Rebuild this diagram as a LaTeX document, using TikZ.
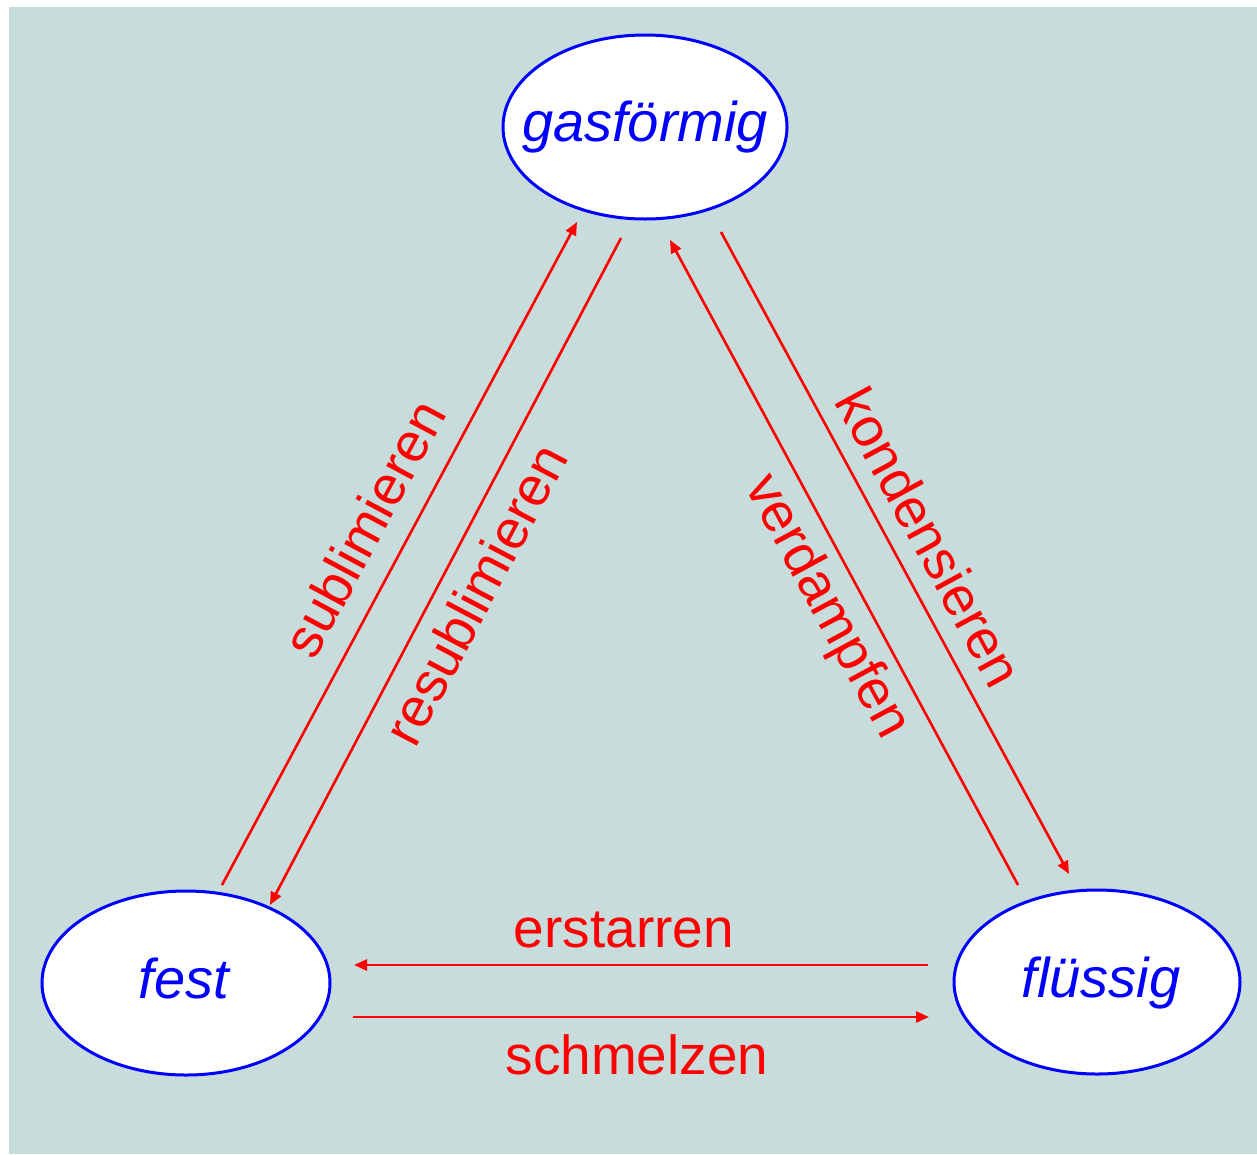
\documentclass[tikz,border=0pt]{standalone}
\usepackage{fontspec}
\setmainfont{Liberation Sans}
\usetikzlibrary{shapes.geometric,arrows.meta}
\definecolor{bgc}{RGB}{200,220,220}
\definecolor{stblue}{RGB}{0,0,255}
\definecolor{arred}{RGB}{255,0,0}
\tikzset{
  statebox/.style={ellipse,draw=stblue,line width=3pt,fill=white,inner sep=0pt},
  statetext/.style={text=stblue,font=\fontsize{56}{60}\selectfont\itshape,anchor=base,inner sep=0pt},
  arr/.style={draw=arred,line width=2.6pt,-{Triangle[length=13pt,width=11pt]}},
  lab/.style={text=arred,font=\fontsize{55}{60}\selectfont,inner sep=0pt}
}
\begin{document}
\begin{tikzpicture}[x=1pt,y=-1pt]
\useasboundingbox (0,0) rectangle (1257,1154);
\fill[bgc] (9,7) rectangle (1257,1154);
% states
\node[statebox,minimum width=284pt,minimum height=184pt] (gas) at (645,127) {};
\node[statebox,minimum width=288pt,minimum height=184pt] (fest) at (186,983) {};
\node[statebox,minimum width=286pt,minimum height=184pt] (fl) at (1097,982) {};
\node[statetext] (gast) at (645,141) {gasförmig};
\node[statetext] (festt) at (184,998) {fest};
\node[statetext] (flt) at (1101,997) {flüssig};
% end points
\coordinate (subA) at (222,885);
\coordinate (subB) at (577,222);
\coordinate (resA) at (621,238);
\coordinate (resB) at (270,905);
\coordinate (verA) at (1018,885);
\coordinate (verB) at (670,240);
\coordinate (konA) at (721,232);
\coordinate (konB) at (1069,874);
\coordinate (ersA) at (928,965);
\coordinate (ersB) at (354,965);
\coordinate (schA) at (353,1017);
\coordinate (schB) at (929,1017);
% connectors
\draw[arr] (subA) -- (subB);
\draw[arr] (resA) -- (resB);
\draw[arr] (verA) -- (verB);
\draw[arr] (konA) -- (konB);
\draw[arr] (ersA) -- (ersB);
\draw[arr] (schA) -- (schB);
% labels
\node[lab,rotate=61.8] (lsub) at (364,528) {sublimieren};
\node[lab,rotate=62.2] (lres) at (475,594) {resublimieren};
\node[lab,rotate=-61.6] (lver) at (826,607) {verdampfen};
\node[lab,rotate=-61.5] (lkon) at (930,537) {kondensieren};
\node[lab,anchor=base] (lers) at (624,947) {erstarren};
\node[lab,anchor=base] (lsch) at (637,1074) {schmelzen};
\end{tikzpicture}
\end{document}
